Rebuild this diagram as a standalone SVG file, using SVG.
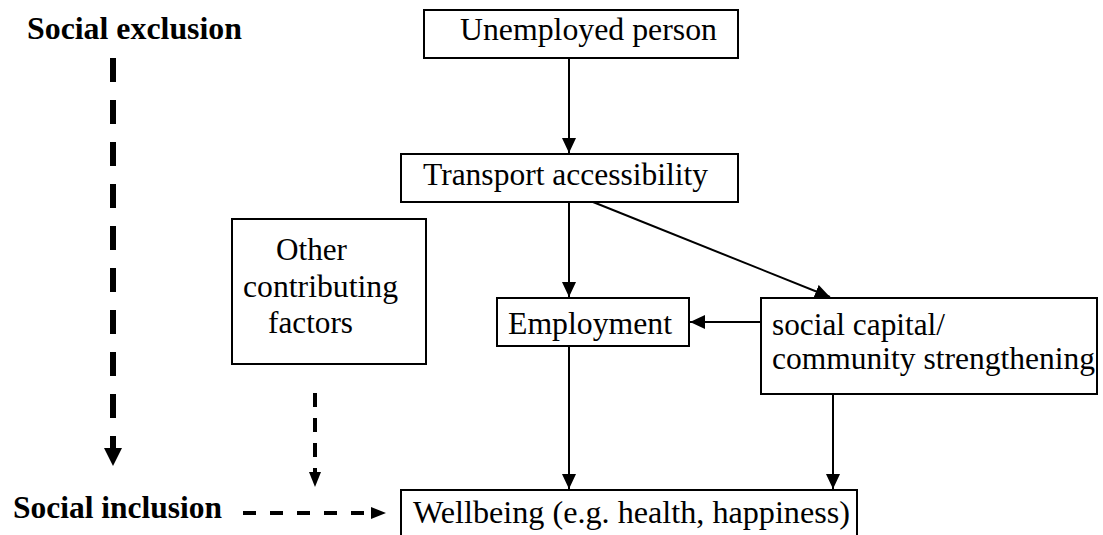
<svg xmlns="http://www.w3.org/2000/svg" width="1103" height="535" viewBox="0 0 1103 535">
  <defs>
    <marker id="ah" markerUnits="userSpaceOnUse" markerWidth="15" markerHeight="14" refX="15" refY="7" orient="auto">
      <path d="M0,0 L15,7 L0,14 z" fill="#000"/>
    </marker>
    <marker id="ahBig" markerUnits="userSpaceOnUse" markerWidth="18" markerHeight="18" refX="0" refY="9" orient="auto">
      <path d="M0,0 L18,9 L0,18 z" fill="#000"/>
    </marker>
    <marker id="ahDash" markerUnits="userSpaceOnUse" markerWidth="15" markerHeight="12" refX="0" refY="6" orient="auto">
      <path d="M0,0 L15,6 L0,12 z" fill="#000"/>
    </marker>
  </defs>
  <style>
    .box { fill: #fff; stroke: #000; stroke-width: 2; }
    .conn { stroke: #000; stroke-width: 2; fill: none; }
    .dash { stroke: #000; stroke-width: 4; fill: none; }
  </style>
  <rect width="1103" height="535" fill="#fff"/>

  <g font-family="Liberation Serif, Tinos, serif" font-size="31" fill="#000">
  <g id="social-exclusion">
    <text font-weight="bold" x="27" y="39" textLength="215" lengthAdjust="spacingAndGlyphs">Social exclusion</text>
  </g>
  <g id="social-inclusion">
    <text font-weight="bold" x="13" y="518" textLength="209" lengthAdjust="spacingAndGlyphs">Social inclusion</text>
  </g>

  <g id="unemployed">
    <rect class="box" x="424" y="10" width="314" height="48"/>
    <text x="460" y="40" textLength="257" lengthAdjust="spacingAndGlyphs">Unemployed person</text>
  </g>
  <g id="transport">
    <rect class="box" x="401" y="154" width="337" height="48"/>
    <text x="423" y="185" textLength="285" lengthAdjust="spacingAndGlyphs">Transport accessibility</text>
  </g>
  <g id="other">
    <rect class="box" x="232" y="219" width="194" height="145"/>
    <text x="276" y="260" textLength="71" lengthAdjust="spacingAndGlyphs">Other</text>
    <text x="243" y="297" textLength="155" lengthAdjust="spacingAndGlyphs">contributing</text>
    <text x="268" y="333" textLength="85" lengthAdjust="spacingAndGlyphs">factors</text>
  </g>
  <g id="employment">
    <rect class="box" x="497" y="298" width="192" height="48"/>
    <text x="508" y="334" textLength="164" lengthAdjust="spacingAndGlyphs">Employment</text>
  </g>
  <g id="social-capital">
    <rect class="box" x="761" y="298" width="336" height="96"/>
    <text x="772" y="335" textLength="173" lengthAdjust="spacingAndGlyphs">social capital/</text>
    <text x="772" y="369" textLength="323" lengthAdjust="spacingAndGlyphs">community strengthening</text>
  </g>
  <g id="wellbeing">
    <rect class="box" x="401" y="490" width="456" height="70"/>
    <text x="413" y="523" textLength="437" lengthAdjust="spacingAndGlyphs">Wellbeing (e.g. health, happiness)</text>
  </g>
  </g>

  <g id="connectors">
    <line class="conn" x1="569" y1="58" x2="569" y2="153" marker-end="url(#ah)"/>
    <line class="conn" x1="569" y1="202" x2="569" y2="297" marker-end="url(#ah)"/>
    <line class="conn" x1="593" y1="202" x2="830" y2="297" marker-end="url(#ah)"/>
    <line class="conn" x1="761" y1="322" x2="690" y2="322" marker-end="url(#ah)"/>
    <line class="conn" x1="569" y1="346" x2="569" y2="489" marker-end="url(#ah)"/>
    <line class="conn" x1="833" y1="394" x2="833" y2="489" marker-end="url(#ah)"/>
    <line x1="113" y1="58" x2="113" y2="448" stroke="#000" stroke-width="6" stroke-dasharray="24 18" marker-end="url(#ahBig)"/>
    <line class="dash" x1="315" y1="393" x2="315" y2="472" stroke-dasharray="14 11" marker-end="url(#ahDash)"/>
    <line class="dash" x1="243" y1="513" x2="371" y2="513" stroke-dasharray="13 14" marker-end="url(#ahDash)"/>
  </g>
</svg>
